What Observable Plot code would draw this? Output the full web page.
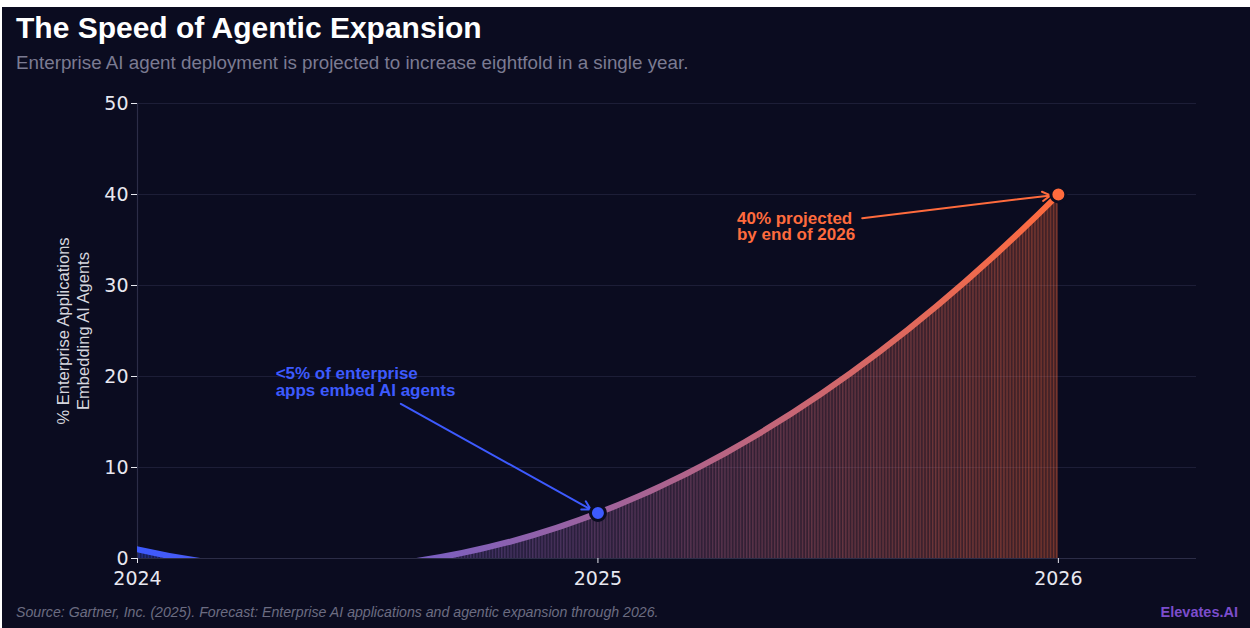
<!DOCTYPE html>
<html>
<head>
<meta charset="utf-8">
<script src="https://cdn.jsdelivr.net/npm/d3@7"></script>
<script src="https://cdn.jsdelivr.net/npm/@observablehq/plot@0.6"></script>
<style>
  html, body { margin: 0; padding: 0; background: #ffffff; }
  #card { position: absolute; left: 2px; top: 7px; width: 1248px; height: 621px; background: #0b0c20; overflow: hidden; font-family: "Liberation Sans", Arial, sans-serif; }
  #title { position: absolute; left: 14px; top: 6px; font-size: 30px; line-height: 30px; font-weight: bold; color: #ffffff; white-space: nowrap; }
  #subtitle { position: absolute; left: 14px; top: 47px; font-size: 18.8px; line-height: 18.8px; color: #7b7b92; white-space: nowrap; }
  #chart { position: absolute; left: 0; top: 78px; }
  #source { position: absolute; left: 14px; top: 598px; font-size: 14.15px; line-height: 14.15px; font-style: italic; color: #6c6c82; white-space: nowrap; }
  #brand { position: absolute; right: 12px; top: 598px; font-size: 14.5px; line-height: 14.5px; font-weight: bold; color: #7c4dcc; white-space: nowrap; }
</style>
</head>
<body>
<div id="card">
  <div id="title">The Speed of Agentic Expansion</div>
  <div id="subtitle">Enterprise AI agent deployment is projected to increase eightfold in a single year.</div>
  <div id="chart"></div>
  <div id="source">Source: Gartner, Inc. (2025). Forecast: Enterprise AI applications and agentic expansion through 2026.</div>
  <div id="brand">Elevates.AI</div>
</div>
<script>
// ---- data ----
const years = [2024, 2025, 2026];
const share = [1, 5, 40];
const xTicks = [2024, 2025, 2026];
const yTicks = [0, 10, 20, 30, 40, 50];
const highlightYears = [2025, 2026];
const highlightShare = [5, 40];
const noteLabels = ["<5% of enterprise\napps embed AI agents", "40% projected\nby end of 2026"];
const yLabel = "% Enterprise Applications\nEmbedding AI Agents";

// ---- styles ----
const BLUE = "#3d5afe", ORANGE = "#ff6b3d", BG = "#0b0c20";
const series = years.map((year, i) => ({year, share: share[i]}));
const highlights = highlightYears.map((year, i) => ({year, share: highlightShare[i], color: i === 0 ? BLUE : ORANGE}));
const notes = [
  {label: noteLabels[0], tx: 2024.3, ty: 21.0, x1: 2024.572, y1: 17.0, x2: 2024.984, y2: 5.4, color: BLUE},
  {label: noteLabels[1], tx: 2025.302, ty: 38.1, x1: 2025.574, y1: 37.4, x2: 2025.983, y2: 39.9, color: ORANGE}
];

// curve that passes through three equally spaced points as one parabola
function ParabolaCurve(context) { this._context = context; }
ParabolaCurve.prototype = {
  areaStart() { this._line = 0; },
  areaEnd() { this._line = NaN; },
  lineStart() { this._pts = []; },
  lineEnd() {
    const p = this._pts, c = this._context;
    if (p.length) {
      if (this._line) c.lineTo(p[0][0], p[0][1]); else c.moveTo(p[0][0], p[0][1]);
      if (p.length === 3) {
        c.quadraticCurveTo(2 * p[1][0] - (p[0][0] + p[2][0]) / 2, 2 * p[1][1] - (p[0][1] + p[2][1]) / 2, p[2][0], p[2][1]);
      } else {
        for (let i = 1; i < p.length; ++i) c.lineTo(p[i][0], p[i][1]);
      }
    }
    if (this._line || (this._line !== 0 && p.length === 1)) c.closePath();
    this._line = 1 - this._line;
  },
  point(x, y) { this._pts.push([+x, +y]); }
};
const curveParabola = (context) => new ParabolaCurve(context);

const W = 1248, H = 515;
const plot = Plot.plot({
  width: W, height: H,
  marginTop: 18, marginBottom: 42, marginLeft: 135, marginRight: 54,
  style: {background: "transparent", fontFamily: "DejaVu Sans", overflow: "visible"},
  x: {domain: [2024, 2026.3]},
  y: {domain: [0, 50]},
  color: {type: "identity"},
  marks: [
    Plot.gridY(yTicks.slice(1), {stroke: "#1d1e37", strokeOpacity: 1, strokeWidth: 1}),
    Plot.areaY(series, {x: "year", y: "share", curve: curveParabola, fill: "url(#shareFill)", fillOpacity: 0.45, clip: true}),
    Plot.ruleY([0], {stroke: "#2c2d47", strokeWidth: 1.2}),
    Plot.ruleX([2024], {stroke: "#2c2d47", strokeWidth: 1.2}),
    Plot.line(series, {x: "year", y: "share", curve: curveParabola, stroke: "url(#shareStroke)", strokeWidth: 6, clip: true}),
    Plot.axisY({ticks: yTicks, tickSize: 6, tickPadding: 3, color: "#e8e8f0", fontSize: 19, label: null, tickFormat: d => String(d)}),
    Plot.axisX({ticks: xTicks, tickSize: 5, tickPadding: 8, color: "#e8e8f0", fontSize: 19, label: null, tickFormat: d => String(d)}),
    Plot.arrow(notes, {x1: "x1", y1: "y1", x2: "x2", y2: "y2", stroke: "color", strokeWidth: 2, headLength: 7}),
    Plot.dot(highlights, {x: "year", y: "share", r: 7.5, fill: "color", stroke: BG, strokeWidth: 3}),
    Plot.text(notes, {x: "tx", y: "ty", text: "label", textAnchor: "start", lineAnchor: "top", fill: "color", fontSize: 17, fontWeight: "bold", fontFamily: "Liberation Sans", lineHeight: 0.98}),
    Plot.text([yLabel], {frameAnchor: "left", textAnchor: "middle", lineAnchor: "middle", rotate: -90, dx: -65, fontSize: 16.5, fill: "#d6d6de", fontFamily: "Liberation Sans", lineHeight: 1.2})
  ]
});

// gradients and stem pattern
const xs = plot.scale("x");
const gx0 = xs.apply(2024), gx1 = xs.apply(2026);
const svg = d3.select(plot);
const defs = svg.insert("defs", ":first-child");
function grad(id) {
  const g = defs.append("linearGradient").attr("id", id).attr("gradientUnits", "userSpaceOnUse")
    .attr("x1", gx0).attr("x2", gx1).attr("y1", 0).attr("y2", 0);
  g.append("stop").attr("offset", 0).attr("stop-color", BLUE);
  g.append("stop").attr("offset", 1).attr("stop-color", ORANGE);
}
grad("shareStroke");
grad("shareFill");
const pat = defs.append("pattern").attr("id", "stems").attr("patternUnits", "userSpaceOnUse").attr("width", 3.1).attr("height", 8);
pat.append("rect").attr("width", 3.1).attr("height", 8).attr("fill", "#808080");
pat.append("rect").attr("width", 1.3).attr("height", 8).attr("fill", "#ffffff");
const mask = defs.append("mask").attr("id", "stemMask").attr("maskUnits", "userSpaceOnUse")
  .attr("x", 0).attr("y", 0).attr("width", W).attr("height", H);
mask.append("rect").attr("width", W).attr("height", H).attr("fill", "url(#stems)");
let target = svg.select('g[fill="url(#shareFill)"]');
if (target.empty()) target = svg.selectAll('path[fill="url(#shareFill)"]');
target.attr("mask", "url(#stemMask)");

document.getElementById("chart").appendChild(plot);
</script>
</body>
</html>
